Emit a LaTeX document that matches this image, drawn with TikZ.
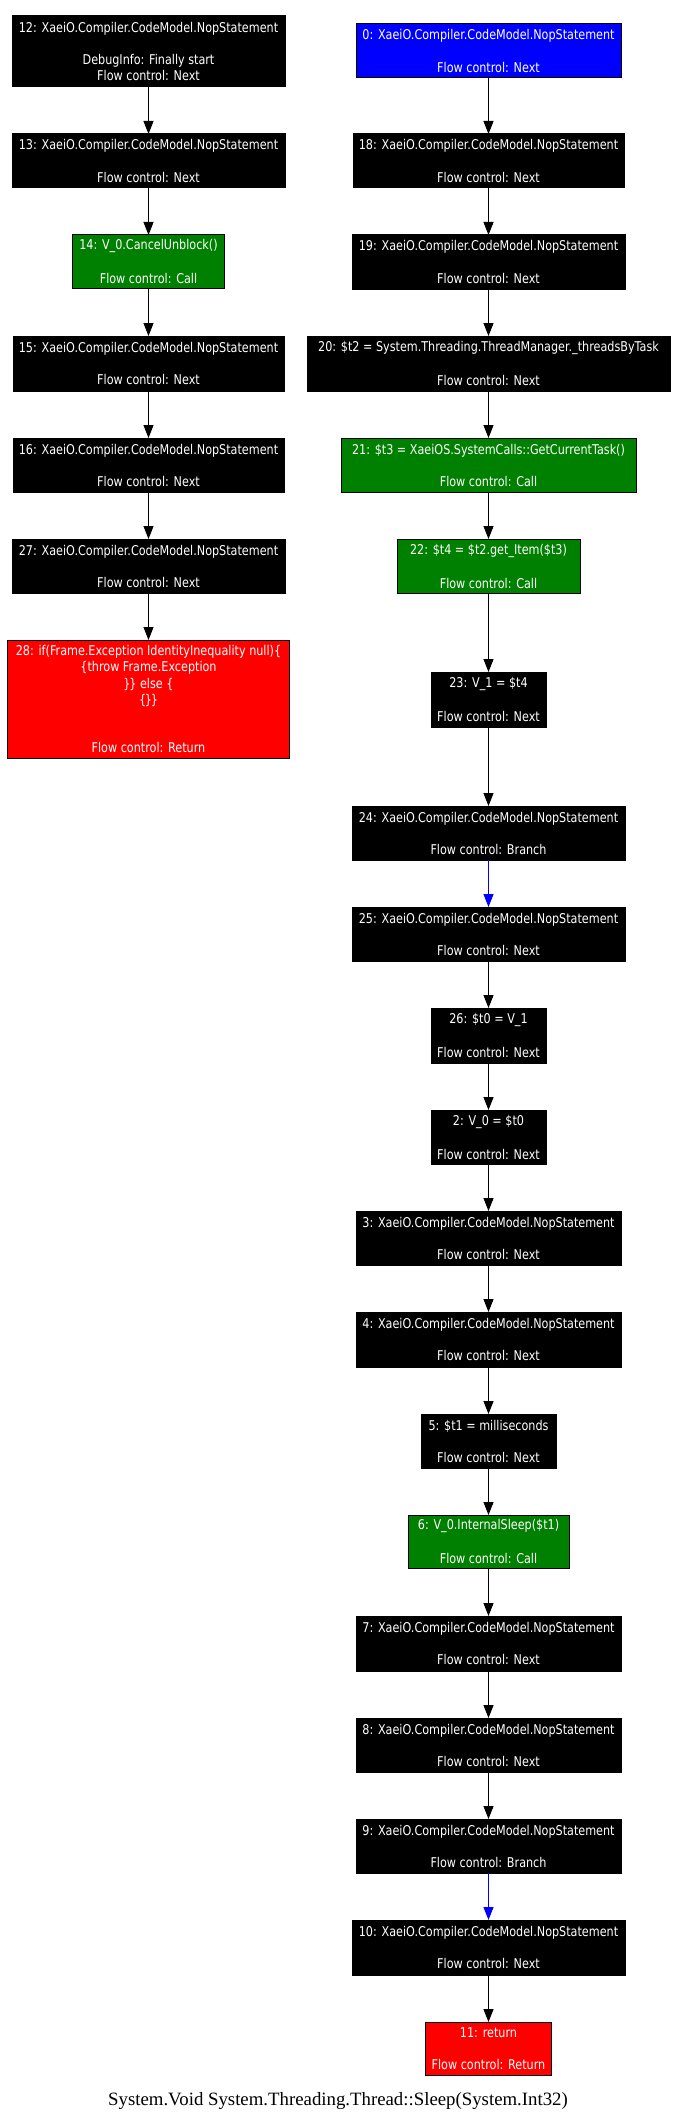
\documentclass[tikz,border=0pt]{standalone}
\usepackage{fontspec}
\usepackage{graphicx}
\newfontfamily\boxfont{DejaVu Sans}
\newfontfamily\titlefont{Liberation Serif}
\usetikzlibrary{arrows.meta}
\definecolor{gvgreen}{HTML}{008000}
\definecolor{gvblue}{HTML}{0000FF}
\definecolor{gvred}{HTML}{FF0000}
\newcommand\Lx[1]{\rule[-2.2pt]{0pt}{12.1pt}\scalebox{1}[1.2]{#1}}
\newcommand\Le{\rule[-2.2pt]{0pt}{12.1pt}}
\newcommand\bk{\kern-0.9pt}
\begin{document}
\begin{tikzpicture}[x=0.75pt,y=-0.75pt,
  stmt/.style={draw=black, line width=0.75pt, text=white, inner sep=0pt, outer sep=0pt, align=center,
    font=\boxfont\fontsize{8.4}{12.1}\selectfont},
  nop/.style={stmt, fill=black},
  call/.style={stmt, fill=gvgreen},
  entry/.style={stmt, fill=gvblue},
  ret/.style={stmt, fill=gvred},
  sz/.style 2 args={minimum width=#1*0.75pt, minimum height=#2*0.75pt},
  flow/.style={line width=0.75pt, -{Triangle[length=9.75pt,width=7.5pt]}},
  branch/.style={flow, gvblue},
  title/.style={anchor=base, inner sep=0pt, font=\titlefont\fontsize{14.1}{17}\selectfont}
]
\fill[white] (0,0) rectangle (675,2119);
\useasboundingbox (0,0) rectangle (675,2119);

% left column
\node[nop, sz={273}{71}] (n12) at (148.5,51.5) {\Lx{12: XaeiO.Compiler.CodeModel.NopStatement}\\\Le\\\Lx{DebugInfo: Finally start}\\\Lx{Flow control: Next}};
\node[nop, sz={273}{54}] (n13) at (148.5,161) {\Lx{13: XaeiO.Compiler.CodeModel.NopStatement}\\\Le\\\Lx{Flow control: Next}};
\node[call, sz={152}{53}] (n14) at (148.5,261.5) {\Lx{14: V\_0.CancelUnblock()}\\\Le\\\Lx{Flow control: Call}};
\node[nop, sz={271}{55}] (n15) at (148.5,363.5) {\Lx{15: XaeiO.Compiler.CodeModel.NopStatement}\\\Le\\\Lx{Flow control: Next}};
\node[nop, sz={271}{54}] (n16) at (148.5,465) {\Lx{16: XaeiO.Compiler.CodeModel.NopStatement}\\\Le\\\Lx{Flow control: Next}};
\node[nop, sz={273}{54}] (n27) at (148.5,566) {\Lx{27: XaeiO.Compiler.CodeModel.NopStatement}\\\Le\\\Lx{Flow control: Next}};
\node[ret, sz={282}{118}] (n28) at (148.5,699) {\Lx{28: if(Frame.Exception IdentityInequality null)\{}\\\Lx{\{throw Frame.Exception}\\\Lx{\}\bk\} else \{}\\\Lx{\{\bk\}\bk\}}\\\Le\\\Le\\\Lx{Flow control: Return}};

% right column
\node[entry, sz={265}{54}] (n0) at (488.5,51) {\Lx{0: XaeiO.Compiler.CodeModel.NopStatement}\\\Le\\\Lx{Flow control: Next}};
\node[nop, sz={271}{54}] (n18) at (488.5,161) {\Lx{18: XaeiO.Compiler.CodeModel.NopStatement}\\\Le\\\Lx{Flow control: Next}};
\node[nop, sz={273}{54}] (n19) at (488.5,262) {\Lx{19: XaeiO.Compiler.CodeModel.NopStatement}\\\Le\\\Lx{Flow control: Next}};
\node[nop, sz={363}{55}] (n20) at (488.5,363.5) {\Lx{20: \$t2 = System.Threading.ThreadManager.\_threadsByTask}\\\Le\\\Lx{Flow control: Next}};
\node[call, sz={295}{54}] (n21) at (488.5,465) {\Lx{21: \$t3 = XaeiOS.SystemCalls::GetCurrentTask()}\\\Le\\\Lx{Flow control: Call}};
\node[call, sz={183}{54}] (n22) at (488.5,566) {\Lx{22: \$t4 = \$t2.get\_Item(\$t3)}\\\Le\\\Lx{Flow control: Call}};
\node[nop, sz={115}{55}] (n23) at (488.5,699.5) {\Lx{23: V\_1 = \$t4}\\\Le\\\Lx{Flow control: Next}};
\node[nop, sz={273}{54}] (n24) at (488.5,833) {\Lx{24: XaeiO.Compiler.CodeModel.NopStatement}\\\Le\\\Lx{Flow control: Branch}};
\node[nop, sz={273}{54}] (n25) at (488.5,934) {\Lx{25: XaeiO.Compiler.CodeModel.NopStatement}\\\Le\\\Lx{Flow control: Next}};
\node[nop, sz={115}{55}] (n26) at (488.5,1035.5) {\Lx{26: \$t0 = V\_1}\\\Le\\\Lx{Flow control: Next}};
\node[nop, sz={115}{54}] (n2) at (488.5,1137) {\Lx{2: V\_0 = \$t0}\\\Le\\\Lx{Flow control: Next}};
\node[nop, sz={265}{54}] (n3) at (488.5,1238) {\Lx{3: XaeiO.Compiler.CodeModel.NopStatement}\\\Le\\\Lx{Flow control: Next}};
\node[nop, sz={265}{55}] (n4) at (488.5,1339.5) {\Lx{4: XaeiO.Compiler.CodeModel.NopStatement}\\\Le\\\Lx{Flow control: Next}};
\node[nop, sz={135}{54}] (n5) at (488.5,1441) {\Lx{5: \$t1 = milliseconds}\\\Le\\\Lx{Flow control: Next}};
\node[call, sz={161}{53}] (n6) at (488.5,1541.5) {\Lx{6: V\_0.InternalSleep(\$t1)}\\\Le\\\Lx{Flow control: Call}};
\node[nop, sz={265}{55}] (n7) at (488.5,1643.5) {\Lx{7: XaeiO.Compiler.CodeModel.NopStatement}\\\Le\\\Lx{Flow control: Next}};
\node[nop, sz={265}{54}] (n8) at (488.5,1745) {\Lx{8: XaeiO.Compiler.CodeModel.NopStatement}\\\Le\\\Lx{Flow control: Next}};
\node[nop, sz={265}{54}] (n9) at (488.5,1846) {\Lx{9: XaeiO.Compiler.CodeModel.NopStatement}\\\Le\\\Lx{Flow control: Branch}};
\node[nop, sz={273}{55}] (n10) at (488.5,1947.5) {\Lx{10: XaeiO.Compiler.CodeModel.NopStatement}\\\Le\\\Lx{Flow control: Next}};
\node[ret, sz={126}{53}] (n11) at (488.5,2048.5) {\Lx{11: return}\\\Le\\\Lx{Flow control: Return}};

% title
\node[title] (ttl) at (338,2105) {System.Void System.Threading.Thread::Sleep(System.Int32)};

% edges
\draw[flow] (n12) -- (n13);
\draw[flow] (n13) -- (n14);
\draw[flow] (n14) -- (n15);
\draw[flow] (n15) -- (n16);
\draw[flow] (n16) -- (n27);
\draw[flow] (n27) -- (n28);

\draw[flow] (n0) -- (n18);
\draw[flow] (n18) -- (n19);
\draw[flow] (n19) -- (n20);
\draw[flow] (n20) -- (n21);
\draw[flow] (n21) -- (n22);
\draw[flow] (n22) -- (n23);
\draw[flow] (n23) -- (n24);
\draw[branch] (n24) -- (n25);
\draw[flow] (n25) -- (n26);
\draw[flow] (n26) -- (n2);
\draw[flow] (n2) -- (n3);
\draw[flow] (n3) -- (n4);
\draw[flow] (n4) -- (n5);
\draw[flow] (n5) -- (n6);
\draw[flow] (n6) -- (n7);
\draw[flow] (n7) -- (n8);
\draw[flow] (n8) -- (n9);
\draw[branch] (n9) -- (n10);
\draw[flow] (n10) -- (n11);
\end{tikzpicture}
\end{document}
